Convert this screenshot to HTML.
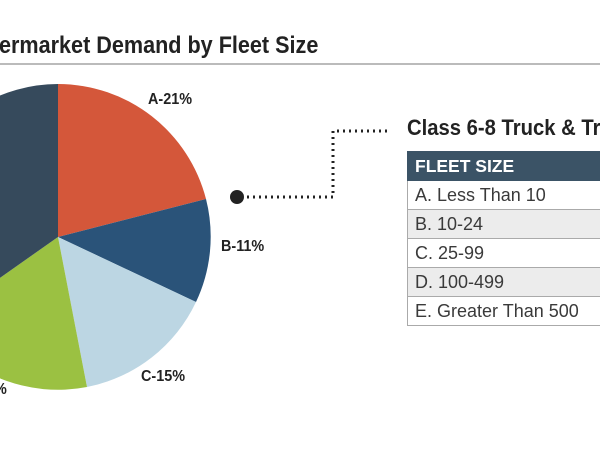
<!DOCTYPE html>
<html><head><style>
body{margin:0;width:600px;height:450px;overflow:hidden;background:#fff;font-family:"Liberation Sans",sans-serif;position:relative}
.t{position:absolute;font-weight:bold;color:#222;transform-origin:0 0;white-space:nowrap}
table{position:absolute;left:407px;top:151px;border-collapse:collapse;width:193px}
td{height:28px;padding:0 0 0 7px;font-size:18px;color:#3a3a3a;border:1px solid #aaa;border-right:none;white-space:nowrap}
tr.h td{background:#3b5366;color:#fff;font-weight:bold;border-color:#3b5366;font-size:17.5px}
tr.g td{background:#ececec}
</style></head><body>
<div class="t" style="left:-1px;top:32px;font-size:24px;transform:scaleX(0.9)">ermarket Demand by Fleet Size</div>
<div style="position:absolute;left:0;top:63px;width:600px;height:2px;background:#bbb"></div>
<svg width="600" height="450" style="position:absolute;left:0;top:0">
<g transform="translate(58,237)">
<path d="M0,0 L0,-153 A153,153 0 0 1 148,-38 Z" fill="#d4573a"/>
<path d="M0,0 L148,-38 A153,153 0 0 1 138,65 Z" fill="#2a5379"/>
<path d="M0,0 L138,65 A153,153 0 0 1 29,150 Z" fill="#bcd6e3"/>
<path d="M0,0 L29,150 A153,153 0 0 1 -125,88 Z" fill="#9bc142"/>
<path d="M0,0 L-125,88 A153,153 0 0 1 0,-153 Z" fill="#364a5c"/>
</g>
<circle cx="237" cy="197" r="7" fill="#222"/>
<path d="M247,197 H333 V131 H390" fill="none" stroke="#222" stroke-width="3" stroke-dasharray="2 4"/>
</svg>
<div class="t" style="left:148px;top:91px;font-size:16px;transform:scaleX(0.9)">A-21%</div>
<div class="t" style="left:221px;top:238px;font-size:16px;transform:scaleX(0.9)">B-11%</div>
<div class="t" style="left:141px;top:368px;font-size:16px;transform:scaleX(0.9)">C-15%</div>
<div style="position:absolute;left:0;top:0;width:600px;height:450px;overflow:hidden">
<div class="t" style="left:-6px;top:381px;font-size:16px;transform:scaleX(0.9)">%</div>
</div>
<div class="t" style="left:407px;top:115px;font-size:22px;transform:scaleX(0.92)">Class 6-8 Truck &amp; Tr</div>
<table>
<tr class="h"><td>FLEET SIZE</td></tr>
<tr><td>A. Less Than 10</td></tr>
<tr class="g"><td>B. 10-24</td></tr>
<tr><td>C. 25-99</td></tr>
<tr class="g"><td>D. 100-499</td></tr>
<tr><td>E. Greater Than 500</td></tr>
</table>
</body></html>
